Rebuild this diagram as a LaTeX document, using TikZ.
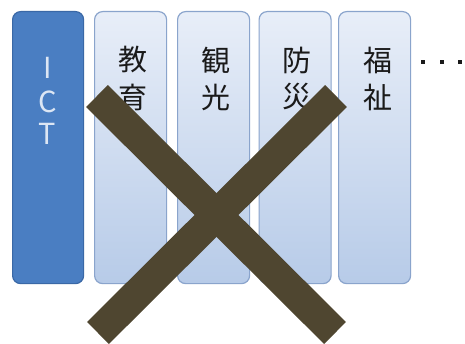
\documentclass[tikz,border=0pt]{standalone}
\usepackage{fontspec}
\newfontfamily\jp{Noto Sans CJK JP}
\definecolor{ictfill}{HTML}{4A7EC2}
\definecolor{ictborder}{HTML}{3A68A6}
\definecolor{icttext}{HTML}{DCE6F4}
\definecolor{boxtop}{HTML}{E8EEF8}
\definecolor{boxbot}{HTML}{B7CBE8}
\definecolor{boxborder}{HTML}{8AA4CC}
\definecolor{crosscol}{HTML}{4F4630}
\definecolor{txt}{HTML}{1A1A1A}
\begin{document}
\begin{tikzpicture}[x=1pt,y=-1pt,
  base/.style={rounded corners=8pt, line width=1.2pt, minimum height=272pt,
    inner sep=0pt, anchor=north west},
  ictbox/.style={base, draw=ictborder, fill=ictfill, minimum width=71pt},
  topicbox/.style={base, draw=boxborder, top color=boxtop, bottom color=boxbot, minimum width=72pt},
  ictlbl/.style={font=\jp\fontsize{29}{29}\selectfont, text=icttext, inner sep=0pt},
  lbl/.style={font=\jp\fontsize{29}{29}\selectfont, text=txt, inner sep=0pt},
  bar/.style={draw=crosscol, line width=31pt},
  dot/.style={fill=txt, minimum size=4.5pt, inner sep=0pt}]
\useasboundingbox (0,0) rectangle (465,344);
\fill[white] (0,0) rectangle (465,344);
% boxes
\node[ictbox] (ict) at (12,11) {};
\node[topicbox] (b1) at (94,11) {};
\node[topicbox] (b2) at (177,11) {};
\node[topicbox] (b3) at (258.5,11) {};
\node[topicbox] (b4) at (338,11) {};
% ICT letters
\node[ictlbl] (i1) at (47.5,68) {I};
\node[ictlbl] (i2) at (47.5,102) {C};
\node[ictlbl] (i3) at (47.5,134) {T};
% kanji
\node[lbl] (k1a) at (133,60) {教};
\node[lbl] (k1b) at (133,97) {育};
\node[lbl] (k2a) at (216,60) {観};
\node[lbl] (k2b) at (216,97) {光};
\node[lbl] (k3a) at (297,60) {防};
\node[lbl] (k3b) at (297,97) {災};
\node[lbl] (k4a) at (378,60) {福};
\node[lbl] (k4b) at (378,97) {祉};
% dots
\node[dot] (d1) at (423,62) {};
\node[dot] (d2) at (442,62) {};
\node[dot] (d3) at (460,62) {};
% cross
\coordinate (c1) at (97,96);
\coordinate (c2) at (335,333);
\coordinate (c3) at (336,96);
\coordinate (c4) at (98,333);
\draw[bar] (c1) -- (c2);
\draw[bar] (c3) -- (c4);
\end{tikzpicture}
\end{document}
